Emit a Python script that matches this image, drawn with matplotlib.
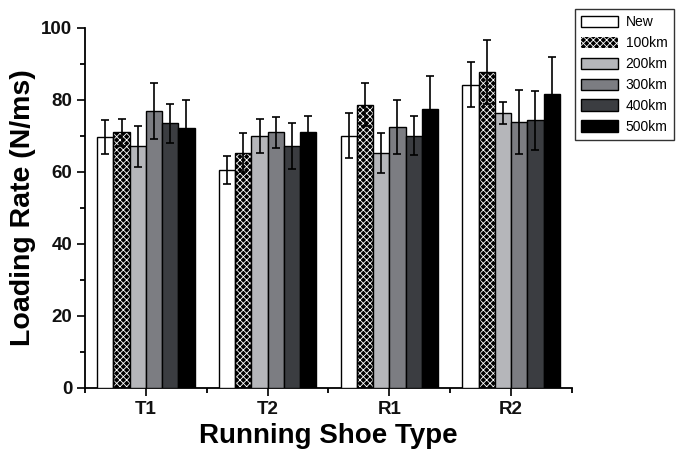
import matplotlib
matplotlib.use("Agg")
import matplotlib.pyplot as plt
import numpy as np
from matplotlib.ticker import MultipleLocator, FixedLocator

groups = ["T1", "T2", "R1", "R2"]
series = ["New", "100km", "200km", "300km", "400km", "500km"]
values = {
    "New":   [69.7, 60.6, 70.1, 84.3],
    "100km": [71.0, 65.4, 78.7, 87.8],
    "200km": [67.1, 70.1, 65.3, 76.4],
    "300km": [76.9, 71.0, 72.4, 73.9],
    "400km": [73.5, 67.1, 70.1, 74.4],
    "500km": [72.3, 71.0, 77.5, 81.7],
}
errors = {
    "New":   [4.7, 3.9, 6.3, 6.3],
    "100km": [3.8, 5.4, 6.0, 8.8],
    "200km": [5.6, 4.7, 5.5, 3.0],
    "300km": [7.7, 4.2, 7.5, 9.0],
    "400km": [5.5, 6.4, 5.5, 8.2],
    "500km": [7.7, 4.6, 9.3, 10.2],
}
colors = {
    "New": "#ffffff",
    "100km": "#000000",
    "200km": "#b5b6ba",
    "300km": "#7c7d82",
    "400km": "#3b3d41",
    "500km": "#000000",
}

plt.rcParams['font.family'] = ['Liberation Sans', 'DejaVu Sans']
plt.rcParams['hatch.linewidth'] = 0.6

fig = plt.figure(figsize=(6.78, 4.54), dpi=100)
ax = fig.add_axes([85/678, 1-388/454, (572-85)/678, (388-28)/454])

x = np.arange(1, len(groups)+1)
n = len(series)
bw = 0.8 / n
handles = []
for i, s in enumerate(series):
    pos = x - 0.4 + bw*(i+0.5)
    if s == "100km":
        ax.bar(pos, values[s], bw, color=colors[s], edgecolor="white", hatch="xxxxx", linewidth=0, zorder=2)
        ax.bar(pos, values[s], bw, fill=False, edgecolor="black", linewidth=1.0, zorder=3)
        h = plt.Rectangle((0, 0), 1, 1, facecolor=colors[s], edgecolor="white", hatch="xxxxx", linewidth=0)
    else:
        ax.bar(pos, values[s], bw, color=colors[s], edgecolor="black", linewidth=1.0, zorder=3)
        h = plt.Rectangle((0, 0), 1, 1, facecolor=colors[s], edgecolor="black", linewidth=1.0)
    ax.errorbar(pos, values[s], yerr=errors[s], fmt="none", ecolor="black", elinewidth=1.2,
                capsize=3, capthick=1.2, zorder=4)
    handles.append(h)

ax.set_xlim(0.5, 4.5)
ax.set_ylim(0, 100)
ax.yaxis.set_major_locator(MultipleLocator(20))
ax.yaxis.set_minor_locator(MultipleLocator(10))
ax.set_xticks(x)
ax.set_xticklabels(groups)
ax.xaxis.set_minor_locator(FixedLocator([0.5, 1.5, 2.5, 3.5, 4.5]))

for sp in ["top", "right"]:
    ax.spines[sp].set_visible(False)
for sp in ["left", "bottom"]:
    ax.spines[sp].set_linewidth(1.3)

ax.tick_params(axis="both", which="major", direction="out", length=6, width=1.3, pad=3,
               labelsize=13.5, colors="#111111")
ax.tick_params(axis="both", which="minor", direction="out", length=3.5, width=1.3)
for lab in ax.get_xticklabels() + ax.get_yticklabels():
    lab.set_fontweight("bold")

ax.set_ylabel("Loading Rate (N/ms)", fontsize=20.5, fontweight="bold", labelpad=4)
ax.set_xlabel("Running Shoe Type", fontsize=20, fontweight="bold", labelpad=4)

leg = fig.legend(handles, series, loc="upper left", bbox_to_anchor=(575/678, 1-9/454),
                 fontsize=10, frameon=True, fancybox=False, edgecolor="black",
                 handlelength=2.65, handleheight=0.9, handletextpad=0.55,
                 labelspacing=0.5, borderpad=0.45, borderaxespad=0)
leg.get_frame().set_linewidth(1.0)

fig.savefig("out.png", dpi=100)
